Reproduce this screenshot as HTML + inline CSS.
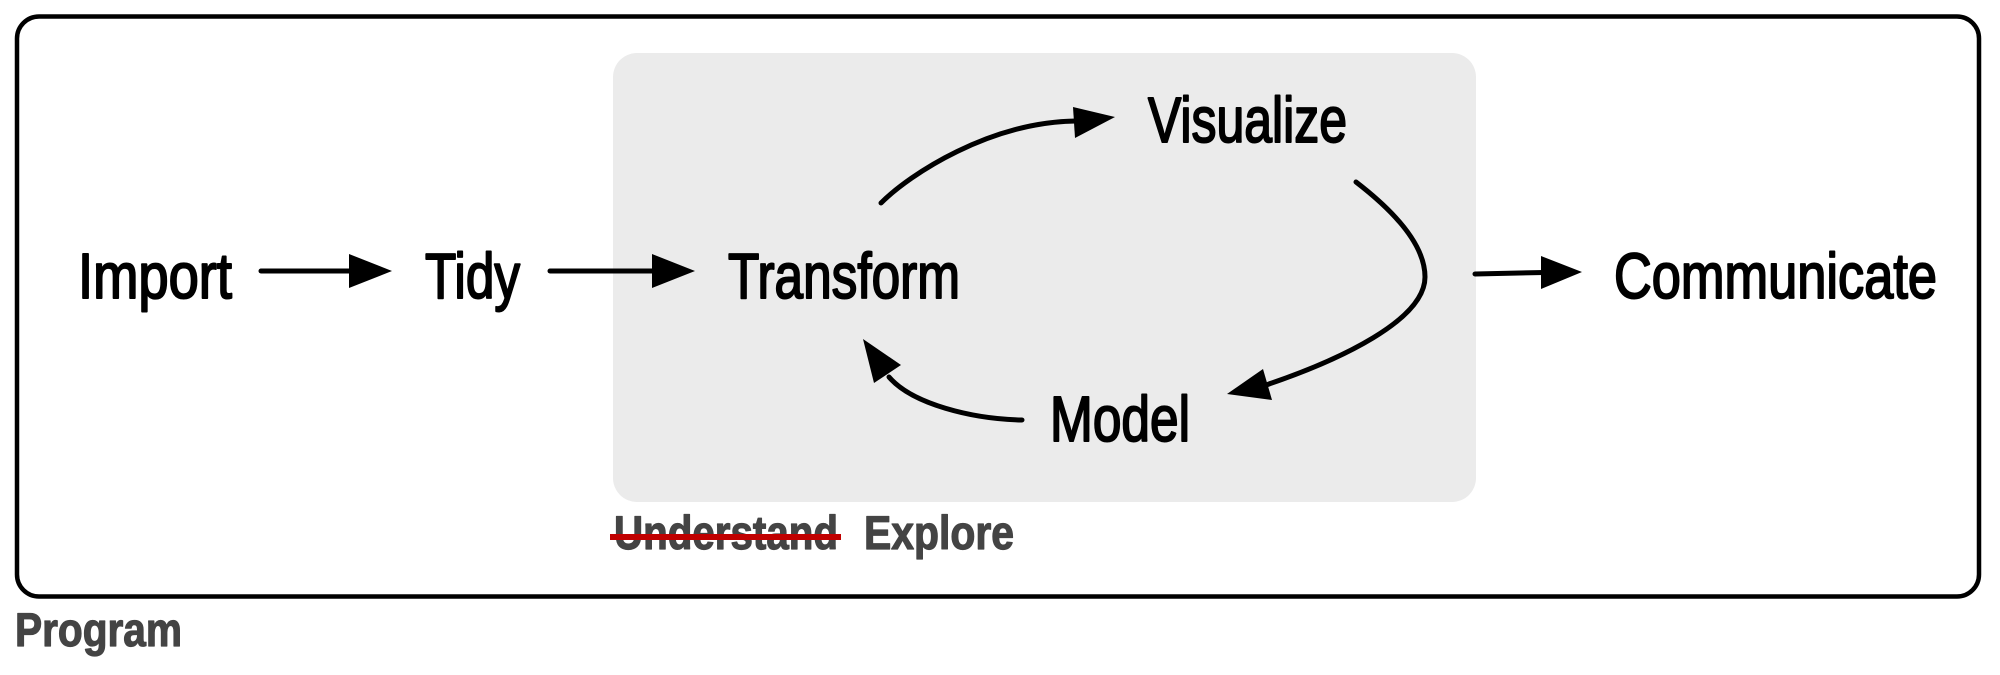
<!DOCTYPE html>
<html>
<head>
<meta charset="utf-8">
<style>
  html, body { margin: 0; padding: 0; background: #ffffff; }
  body { width: 2000px; height: 675px; overflow: hidden; }
  svg { display: block; }
  .lbl { font-family: "Liberation Sans", "DejaVu Sans", sans-serif; font-size: 64px; fill: #000; stroke: #000; stroke-width: 2; stroke-linejoin: round; }
  .gl { font-family: "Liberation Sans", "DejaVu Sans", sans-serif; font-size: 47px; font-weight: bold; fill: #444444; stroke: #444444; stroke-width: 1.2; stroke-linejoin: round; }
</style>
</head>
<body>
<svg width="2000" height="675" viewBox="0 0 2000 675" xmlns="http://www.w3.org/2000/svg">
  <!-- outer Program box -->
  <rect x="17" y="16.5" width="1962" height="580" rx="22" ry="22" fill="#ffffff" stroke="#000" stroke-width="4.5"/>
  <!-- Explore gray box -->
  <rect x="613" y="53" width="863" height="449" rx="24" ry="24" fill="#ebebeb"/>

  <!-- labels -->
  <text class="lbl" x="78" y="298" textLength="154" lengthAdjust="spacingAndGlyphs">Import</text>
  <text class="lbl" x="425" y="298" textLength="95" lengthAdjust="spacingAndGlyphs">Tidy</text>
  <text class="lbl" x="728" y="298" textLength="232" lengthAdjust="spacingAndGlyphs">Transform</text>
  <text class="lbl" x="1148" y="142" textLength="199" lengthAdjust="spacingAndGlyphs">Visualize</text>
  <text class="lbl" x="1050" y="441" textLength="140" lengthAdjust="spacingAndGlyphs">Model</text>
  <text class="lbl" x="1614" y="298" textLength="323" lengthAdjust="spacingAndGlyphs">Communicate</text>

  <!-- straight arrows -->
  <line x1="261" y1="271" x2="352" y2="271" stroke="#000" stroke-width="5" stroke-linecap="round"/>
  <polygon points="349,254 392,271 349,288" fill="#000"/>

  <line x1="550" y1="271" x2="655" y2="271" stroke="#000" stroke-width="5" stroke-linecap="round"/>
  <polygon points="652,254 695,271 652,288" fill="#000"/>

  <line x1="1475" y1="274" x2="1544" y2="272.5" stroke="#000" stroke-width="5" stroke-linecap="round"/>
  <polygon points="1541,256 1582,272 1541,289" fill="#000"/>

  <!-- Transform -> Visualize -->
  <path d="M881,203 C910,174 990,122 1076,121" fill="none" stroke="#000" stroke-width="5" stroke-linecap="round"/>
  <polygon points="1073,107 1115,117 1075,138" fill="#000"/>

  <!-- Visualize -> Model -->
  <path d="M1356,182 C1395,212 1425,245 1425,277 C1425,320 1340,360 1266,385" fill="none" stroke="#000" stroke-width="5" stroke-linecap="round"/>
  <polygon points="1263,369 1227,394 1272,400" fill="#000"/>

  <!-- Model -> Transform -->
  <path d="M1022,420 C972,419 912,404 889,377" fill="none" stroke="#000" stroke-width="5" stroke-linecap="round"/>
  <polygon points="901,365 863,339 874,383" fill="#000"/>

  <!-- bottom labels -->
  <text class="gl" x="614" y="549" textLength="224" lengthAdjust="spacingAndGlyphs">Understand</text>
  <rect x="610" y="534" width="231" height="6" fill="#c00000"/>
  <text class="gl" x="864" y="549" textLength="150" lengthAdjust="spacingAndGlyphs">Explore</text>
  <text class="gl" x="15" y="646" textLength="167" lengthAdjust="spacingAndGlyphs">Program</text>
</svg>
</body>
</html>
